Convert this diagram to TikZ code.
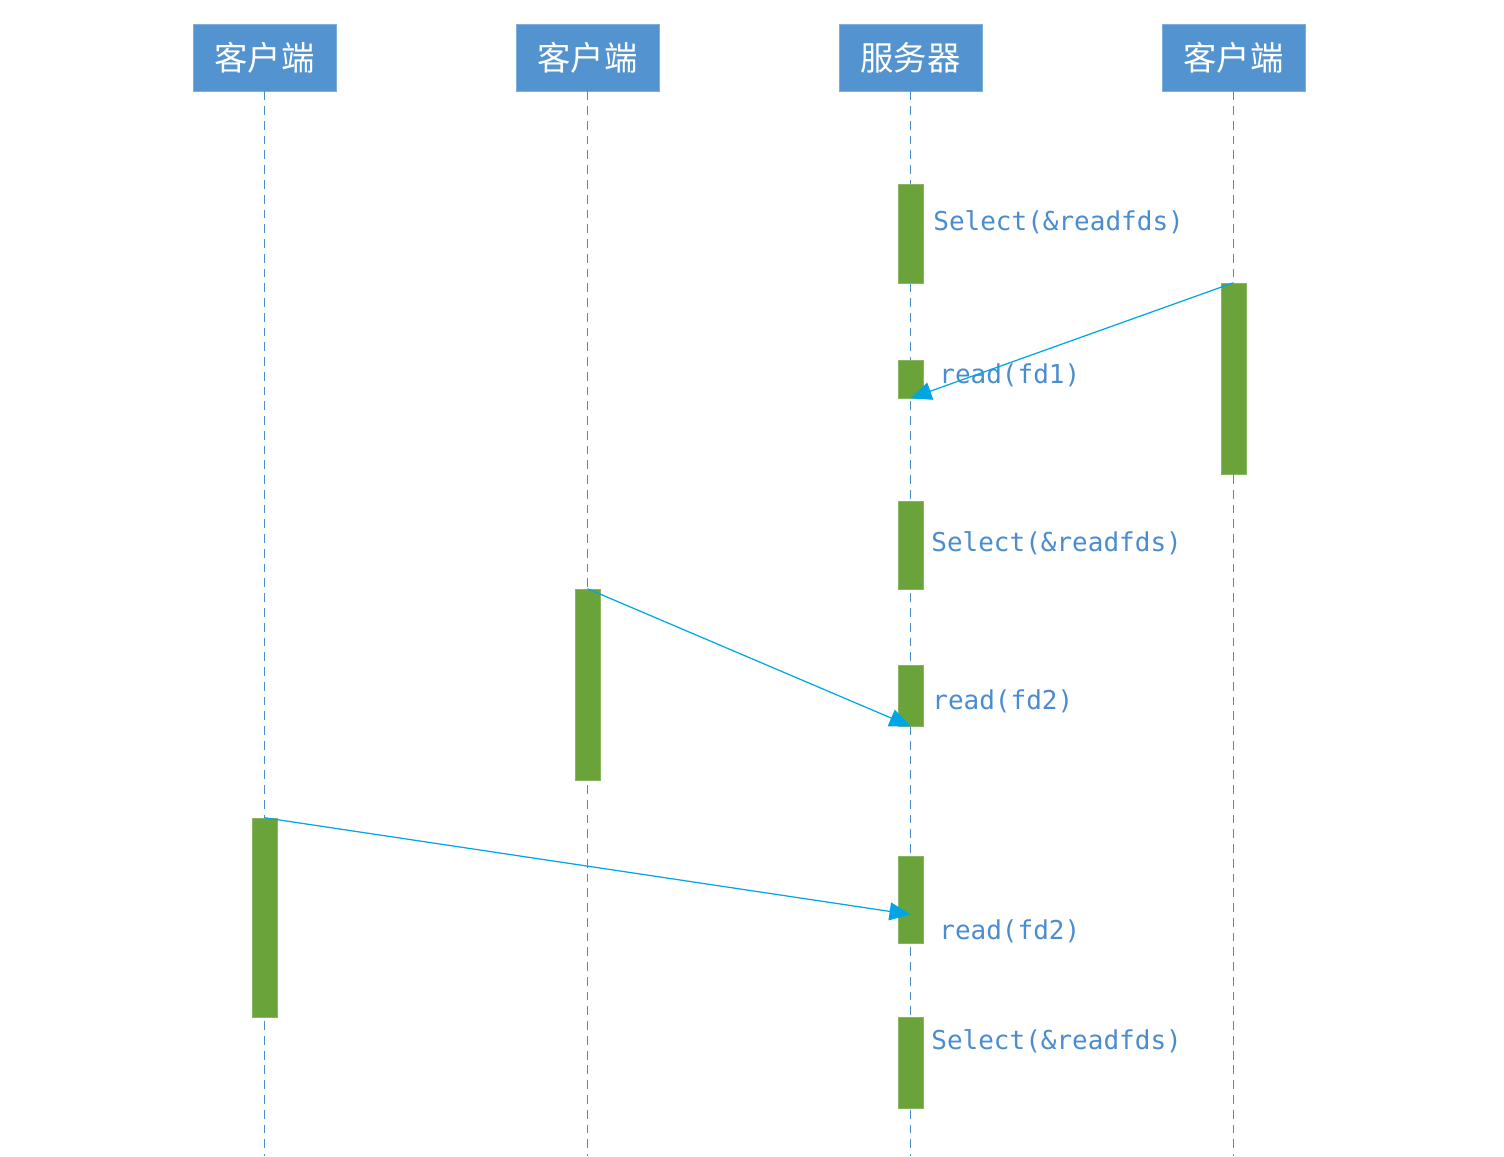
\documentclass[tikz,border=0pt]{standalone}
\usepackage{fontspec}
\newfontfamily\cjk{Noto Sans CJK SC}
\setmonofont{DejaVu Sans Mono}
\usetikzlibrary{arrows.meta,calc}
\definecolor{headblue}{RGB}{83,147,208}
\definecolor{linkblue}{RGB}{0,165,232}
\definecolor{barGreen}{RGB}{105,163,58}
\definecolor{callblue}{RGB}{74,140,208}

\begin{document}
\begin{tikzpicture}
		[x=0.02cm,y=-0.02cm,
		head/.style={shape=rectangle,fill=headblue,draw=headblue!75!white,line width=0.5pt,
			minimum width=2.86cm,minimum height=1.34cm,inner sep=0pt,
			text=white,font=\cjk\fontsize{19}{19}\selectfont},
		lifeline/.style={draw=callblue,line width=0.9pt,dash pattern=on 5pt off 3.4pt},
		bar/.style={shape=rectangle,fill=barGreen,draw=barGreen!80!white,line width=0.3pt,
			minimum width=0.5cm,minimum height=#1*0.02cm,inner sep=0pt},
		call/.style={anchor=west,inner sep=0pt,text=callblue,
			font=\ttfamily\fontsize{14.8}{15}\selectfont},
		msg/.style={draw=linkblue,line width=0.7pt,-{Triangle[length=0.42cm,width=0.36cm]}}]
		\useasboundingbox (0,0) rectangle (1504,1156);
		% heads and lifelines
		\foreach \name/\x/\txt in {c1/264.5/客户端, c2/587.5/客户端, srv/910.5/服务器, c3/1233.5/客户端}
		{
			\node[head] (\name) at (\x,57.5) {\txt};
			\coordinate (\name-end) at (\x,1156);
			\draw[lifeline] (\name.south) -- (\name-end);
		}
		% server bars
		\node[bar=99] (s1) at (910.5,233.5) {};
		\node[bar=38] (s2) at (910.5,379) {};
		\node[bar=88] (s3) at (910.5,545) {};
		\node[bar=61] (s4) at (910.5,695.5) {};
		\node[bar=87] (s5) at (910.5,899.5) {};
		\node[bar=91] (s6) at (910.5,1062.5) {};
		% client bars
		\node[bar=191] (r1) at (1233.5,378.5) {};
		\node[bar=191] (m1) at (587.5,684.5) {};
		\node[bar=199] (l1) at (264.5,917.5) {};
		\coordinate (s5-in) at ($(s5.center)+(0,15)$);
		% calls
		\node[call] (t1) at (933,222) {Select(\&readfds)};
		\node[call] (t2) at (939,375) {read(fd1)};
		\node[call] (t3) at (931,543) {Select(\&readfds)};
		\node[call] (t4) at (932,701) {read(fd2)};
		\node[call] (t5) at (939,931) {read(fd2)};
		\node[call] (t6) at (931,1041) {Select(\&readfds)};
		\path
		\foreach \startNode/\endNode in {r1.north/s2.south, m1.north/s4.south, l1.north/s5-in}
		{
			(\startNode) edge[msg] (\endNode)
		};
\end{tikzpicture}
\end{document}
